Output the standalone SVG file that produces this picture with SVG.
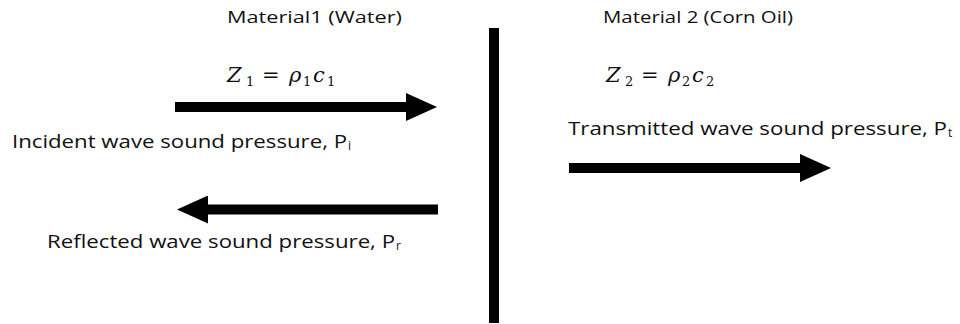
<svg xmlns="http://www.w3.org/2000/svg" width="960" height="324" viewBox="0 0 960 324">
<defs>
<style>
.lbl{font-family:"Open Sans","Liberation Sans",sans-serif;fill:#111}
.big{font-size:18px}
.mid{font-size:15.5px}
.sub{font-size:12px}
.math{font-family:"DejaVu Serif","Liberation Serif",serif;font-style:italic;font-size:21px;fill:#111}
.eq{font-family:"DejaVu Serif","Liberation Serif",serif;font-size:21px;fill:#111}
.msub{font-family:"DejaVu Serif","Liberation Serif",serif;font-size:13px;fill:#111}
.shaft{stroke:#000;stroke-width:10;fill:none}
</style>
<marker id="head" markerUnits="userSpaceOnUse" markerWidth="31" markerHeight="28" refX="1" refY="14" orient="auto">
<path d="M0,0 L31,14 L0,28 Z" fill="#000"/>
</marker>
</defs>
<rect width="960" height="324" fill="#fff"/>
<g id="interface">
<rect x="489" y="28" width="10" height="295" fill="#000"/>
</g>
<g id="material1">
<text class="lbl mid" x="227" y="23" textLength="175" lengthAdjust="spacingAndGlyphs">Material1 (Water)</text>
<text class="math" x="227" y="82">Z</text>
<text class="msub" x="246" y="86">1</text>
<text class="eq" x="262" y="82">=</text>
<text class="math" x="289" y="82">ρ</text>
<text class="msub" x="303" y="86">1</text>
<text class="math" x="313" y="82">c</text>
<text class="msub" x="327" y="86">1</text>
</g>
<g id="material2">
<text class="lbl mid" x="603" y="23" textLength="190" lengthAdjust="spacingAndGlyphs">Material 2 (Corn Oil)</text>
<text class="math" x="606" y="82">Z</text>
<text class="msub" x="625" y="86">2</text>
<text class="eq" x="641" y="82">=</text>
<text class="math" x="668" y="82">ρ</text>
<text class="msub" x="682" y="86">2</text>
<text class="math" x="692" y="82">c</text>
<text class="msub" x="706" y="86">2</text>
</g>
<g id="incident">
<text class="lbl big" x="12" y="148" textLength="335" lengthAdjust="spacingAndGlyphs">Incident wave sound pressure, P</text>
<text class="lbl sub" x="348" y="150">i</text>
</g>
<g id="reflected">
<text class="lbl big" x="47" y="248" textLength="348" lengthAdjust="spacingAndGlyphs">Reflected wave sound pressure, P</text>
<text class="lbl sub" x="396" y="250">r</text>
</g>
<g id="transmitted">
<text class="lbl big" x="568" y="135" textLength="379" lengthAdjust="spacingAndGlyphs">Transmitted wave sound pressure, P</text>
<text class="lbl sub" x="948" y="137">t</text>
</g>
<g id="connectors">
<line class="shaft" x1="175" y1="107" x2="407" y2="107" marker-end="url(#head)"/>
<line class="shaft" x1="438" y1="209.5" x2="207" y2="209.5" marker-end="url(#head)"/>
<line class="shaft" x1="569" y1="168" x2="801" y2="168" marker-end="url(#head)"/>
</g>
</svg>
